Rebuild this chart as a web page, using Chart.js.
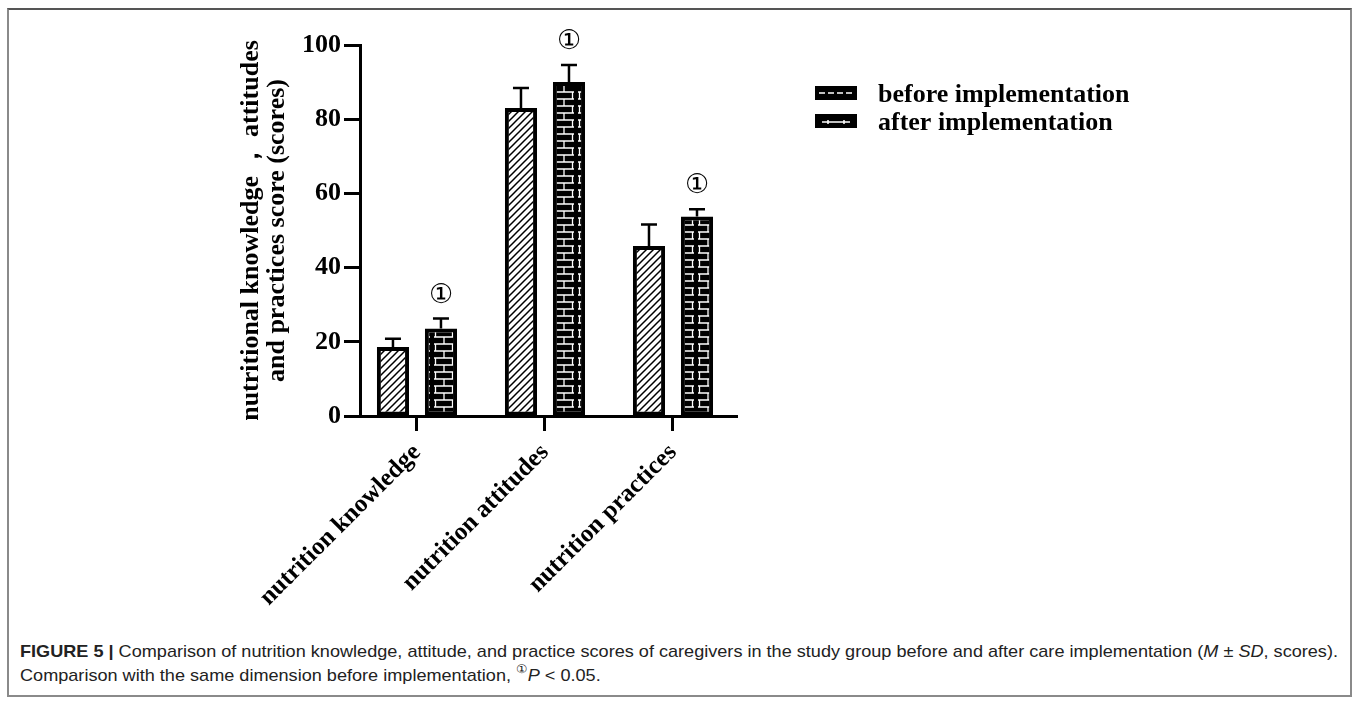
<!DOCTYPE html>
<html>
<head>
<meta charset="utf-8">
<script src="https://cdn.jsdelivr.net/npm/chart.js@4/dist/chart.umd.min.js"></script>
<style>
  html, body { margin: 0; padding: 0; background: #fff; }
  body { width: 1358px; height: 704px; position: relative; overflow: hidden; }
  #frame { position: absolute; left: 7px; top: 8px; width: 1341px; height: 685px; border: 2px solid #8a8a8a; border-top-color: #555; }
  #chartBox { position: absolute; left: 0; top: 0; width: 1358px; height: 620px; }
  #caption { position: absolute; left: 20px; top: 640px; color: #222;
    font-family: "Liberation Sans Narrow", "Liberation Sans", Arial, sans-serif; font-size: 17px; line-height: 24px; white-space: nowrap; }
  #caption > div { transform-origin: 0 50%; }
  #caption b { font-weight: bold; }
  #caption sup { font-size: 0.7em; line-height: 0; position: relative; top: -0.15em; }
</style>
</head>
<body>
<div id="frame"></div>
<div id="chartBox"><canvas id="chart" width="1358" height="620"></canvas></div>
<div id="caption">
  <div id="cap1"><b>FIGURE 5 |</b> Comparison of nutrition knowledge, attitude, and practice scores of caregivers in the study group before and after care implementation (<i>M</i> ± <i>SD</i>, scores).</div>
  <div id="cap2">Comparison with the same dimension before implementation, <sup>①</sup><i>P</i> &lt; 0.05.</div>
</div>
<script>
// Dimensions scored before and after the care programme
const categories = ["nutrition knowledge", "nutrition attitudes", "nutrition practices"];
const seriesNames = ["before implementation", "after implementation"];
const beforeMean = [18.6, 83.0, 45.8];
const beforeSD = [2.2, 5.4, 5.8];
const afterMean = [23.6, 90.0, 53.8];
const afterSD = [2.7, 4.6, 1.9];
const significant = [true, true, true];
const yTicks = [0, 20, 40, 60, 80, 100];
const yTitle = ["nutritional knowledge \uFF0C attitudes", "and practices score (scores)"];

const SERIF = "'Liberation Serif', 'Times New Roman', serif";
const canvas = document.getElementById('chart');
const ctx = canvas.getContext('2d');

// Diagonal hatch fill
function makeHatch() {
  const t = document.createElement('canvas');
  t.width = 7; t.height = 7;
  const g = t.getContext('2d');
  g.fillStyle = '#fff'; g.fillRect(0, 0, 7, 7);
  g.strokeStyle = '#000'; g.lineWidth = 1.5;
  g.beginPath();
  g.moveTo(-1, 8); g.lineTo(8, -1);
  g.moveTo(-4, 4); g.lineTo(4, -4);
  g.moveTo(3, 11); g.lineTo(11, 3);
  g.stroke();
  return ctx.createPattern(t, 'repeat');
}

// White brick lines on black
function makeBrick() {
  const w = 24, h = 14;
  const t = document.createElement('canvas');
  t.width = w; t.height = h;
  const g = t.getContext('2d');
  g.fillStyle = '#000'; g.fillRect(0, 0, w, h);
  g.strokeStyle = '#fff'; g.lineWidth = 1.3;
  g.beginPath();
  g.moveTo(2, 1); g.lineTo(22, 1);
  g.moveTo(2, 8); g.lineTo(22, 8);
  g.moveTo(12, 1); g.lineTo(12, 8);
  g.moveTo(3.5, 8); g.lineTo(3.5, 15);
  g.moveTo(20.5, 8); g.lineTo(20.5, 15);
  g.moveTo(3.5, -6); g.lineTo(3.5, 1);
  g.moveTo(20.5, -6); g.lineTo(20.5, 1);
  g.stroke();
  return ctx.createPattern(t, 'repeat');
}

const sds = [beforeSD, afterSD];

// Upward SD whiskers and significance markers
const errorBars = {
  id: 'errorBars',
  afterDatasetsDraw(chart) {
    const c = chart.ctx;
    const y = chart.scales.y;
    c.save();
    c.strokeStyle = '#000';
    c.lineWidth = 2.5;
    chart.data.datasets.forEach((ds, di) => {
      const meta = chart.getDatasetMeta(di);
      meta.data.forEach((el, i) => {
        const top = y.getPixelForValue(ds.data[i].y + sds[di][i]);
        c.beginPath();
        c.moveTo(el.x, el.y);
        c.lineTo(el.x, top);
        c.moveTo(el.x - 8, top);
        c.lineTo(el.x + 8, top);
        c.stroke();
        if (di === 1 && significant[i]) {
          c.fillStyle = '#000';
          c.font = "27px " + SERIF;
          c.textAlign = 'center';
          c.textBaseline = 'middle';
          c.fillText('\u2460', el.x, top - 23);
        }
      });
    });
    c.restore();
  }
};

// Legend on the right of the plot
const sideLegend = {
  id: 'sideLegend',
  afterDraw(chart) {
    const c = chart.ctx;
    const rows = [{ y: 93, kind: 'dash' }, { y: 121, kind: 'tick' }];
    c.save();
    rows.forEach((r, i) => {
      c.fillStyle = '#000';
      c.fillRect(815, r.y - 7, 42, 14);
      c.strokeStyle = '#fff';
      c.lineWidth = 1.5;
      c.beginPath();
      if (r.kind === 'dash') {
        c.setLineDash([6, 3]);
        c.moveTo(819, r.y); c.lineTo(853, r.y);
      } else {
        c.moveTo(822, r.y + 1); c.lineTo(850, r.y + 1);
        c.moveTo(828, r.y - 1); c.lineTo(828, r.y + 3);
        c.moveTo(844, r.y - 1); c.lineTo(844, r.y + 3);
      }
      c.stroke();
      c.setLineDash([]);
      c.fillStyle = '#000';
      c.font = "bold 26px " + SERIF;
      c.textAlign = 'left';
      c.textBaseline = 'middle';
      c.fillText(seriesNames[i], 878, r.y + 2);
    });
    c.restore();
  }
};

const hatch = makeHatch();
const brick = makeBrick();

new Chart(canvas, {
  type: 'bar',
  data: {
    datasets: [
      {
        label: seriesNames[0],
        data: categories.map((_, i) => ({ x: i, y: beforeMean[i] })),
        backgroundColor: hatch,
        borderColor: '#000',
        borderWidth: 4,
        borderSkipped: false
      },
      {
        label: seriesNames[1],
        data: categories.map((_, i) => ({ x: i, y: afterMean[i] })),
        backgroundColor: brick,
        borderColor: '#000',
        borderWidth: 4,
        borderSkipped: false
      }
    ]
  },
  options: {
    responsive: false,
    animation: false,
    devicePixelRatio: 1,
    datasets: { bar: { categoryPercentage: 0.75, barPercentage: 0.67 } },
    layout: { padding: { left: 0, top: 45, right: 621, bottom: 0 } },
    plugins: { legend: { display: false }, tooltip: { enabled: false } },
    scales: {
      x: {
        type: 'linear',
        position: 'bottom',
        offset: false,
        min: -0.445,
        max: 2.5,
        afterFit(scale) { scale.height = 204; },
        afterBuildTicks(scale) { scale.ticks = categories.map((_, i) => ({ value: i })); },
        border: { display: true, color: '#000', width: 3 },
        grid: { offset: false, drawOnChartArea: false, drawTicks: true, tickLength: 15, tickWidth: 3, tickColor: '#000' },
        ticks: {
          autoSkip: false,
          minRotation: 45,
          maxRotation: 45,
          padding: 7,
          color: '#000',
          font: { family: SERIF, weight: 'bold', size: 25 },
          callback: (v) => categories[v]
        }
      },
      y: {
        min: 0,
        max: 100,
        afterFit(scale) { scale.width = 360; },
        afterBuildTicks(scale) { scale.ticks = yTicks.map(v => ({ value: v })); },
        border: { display: true, color: '#000', width: 3 },
        grid: { drawOnChartArea: false, drawTicks: true, tickLength: 16, tickWidth: 3, tickColor: '#000' },
        ticks: {
          padding: 3,
          color: '#000',
          font: { family: SERIF, weight: 'bold', size: 26 }
        },
        title: {
          display: true,
          text: yTitle,
          color: '#000',
          font: { family: SERIF, weight: 'bold', size: 26, lineHeight: 0.97 },
          padding: { top: 239, bottom: 0 }
        }
      }
    }
  },
  plugins: [errorBars, sideLegend]
});

// Condense the caption so its first line spans the frame width
(function fitCaption() {
  const l1 = document.getElementById('cap1');
  const l2 = document.getElementById('cap2');
  const span = document.createElement('span');
  span.innerHTML = l1.innerHTML;
  l1.innerHTML = '';
  l1.appendChild(span);
  const w = span.getBoundingClientRect().width;
  const s = 1318 / w;
  l1.style.transform = 'scaleX(' + s.toFixed(4) + ')';
  l2.style.transform = 'scaleX(' + s.toFixed(4) + ')';
})();
</script>
</body>
</html>
